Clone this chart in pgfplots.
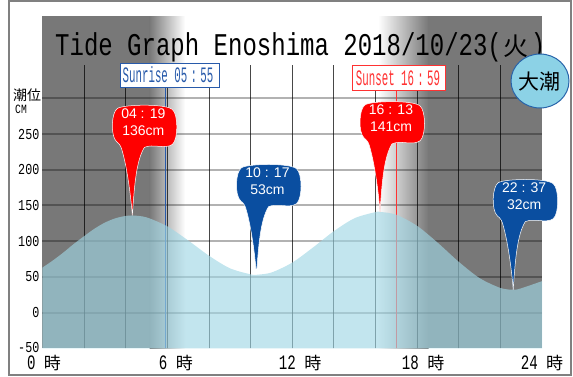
\documentclass[border=0pt]{standalone}
\usepackage{fontspec}
\usepackage{graphicx}
\usepackage{pgfplots}
\pgfplotsset{compat=1.18}
\usepgfplotslibrary{fillbetween}
\setmainfont{Liberation Sans}
\newfontfamily\jp{Noto Sans CJK JP}
\newfontfamily\titlemono[FakeStretch=0.76]{Liberation Mono}
\newfontfamily\sunmono[FakeStretch=0.49]{Liberation Mono}
\newfontfamily\xmono[FakeStretch=0.69]{Liberation Mono}
\newfontfamily\ymono[FakeStretch=0.77]{Liberation Mono}
\definecolor{night}{RGB}{120,120,120}
\definecolor{tidec}{RGB}{160,214,228}
\definecolor{hiR}{RGB}{255,0,0}
\definecolor{loB}{RGB}{10,78,160}
\definecolor{sunB}{RGB}{40,90,170}
\definecolor{sunR}{RGB}{255,50,50}
\definecolor{circF}{RGB}{140,210,230}
\definecolor{circD}{RGB}{40,100,170}
\definecolor{frameg}{RGB}{128,128,128}
\newcommand{\ji}{{\jp\fontsize{17}{17}\selectfont 時}}
\pgfdeclareplotmark{balloon}{%
 \pgfpathmoveto{\pgfpoint{0pt}{0pt}}%
 \pgfpathcurveto{\pgfpoint{2pt}{30pt}}{\pgfpoint{4pt}{55pt}}{\pgfpoint{12pt}{68pt}}%
 \pgfpathcurveto{\pgfpoint{20pt}{72pt}}{\pgfpoint{33pt}{66pt}}{\pgfpoint{40pt}{71pt}}%
 \pgfpathcurveto{\pgfpoint{46pt}{76pt}}{\pgfpoint{46pt}{101pt}}{\pgfpoint{40pt}{106pt}}%
 \pgfpathcurveto{\pgfpoint{33pt}{112pt}}{\pgfpoint{-9pt}{111pt}}{\pgfpoint{-15pt}{107pt}}%
 \pgfpathcurveto{\pgfpoint{-21pt}{103pt}}{\pgfpoint{-22pt}{80pt}}{\pgfpoint{-16pt}{74pt}}%
 \pgfpathcurveto{\pgfpoint{-12pt}{71pt}}{\pgfpoint{-11pt}{68pt}}{\pgfpoint{-10pt}{64pt}}%
 \pgfpathcurveto{\pgfpoint{-6pt}{50pt}}{\pgfpoint{-2pt}{25pt}}{\pgfpoint{0pt}{0pt}}%
 \pgfpathclose
 \pgfusepathqfillstroke
}
\begin{document}
\begin{tikzpicture}
% night shading (pixel coordinates)
\begin{scope}[x=1pt,y=-1pt,shift={(-42.5pt,348.3pt)}]
 \fill[night] (42.5,16) rectangle (150,348.3);
 \shade[left color=night, right color=white] (149.5,16) rectangle (185,348.3);
 \shade[left color=white, right color=night] (378,16) rectangle (428.5,348.3);
 \fill[night] (428,16) rectangle (542,348.3);
\end{scope}
\begin{axis}[
 at={(0pt,0pt)}, anchor=south west,
 scale only axis, width=499.5pt, height=250pt,
 xmin=0, xmax=24, ymin=-50, ymax=300,
 clip=false,
 axis line style={draw=none}, tick style={draw=none}, major tick length=0pt,
 /pgf/number format/assume math mode=true,
 xtick={0,6,12,18,24},
 xticklabels={{\hspace*{3pt}0 \ji},{\hspace*{17pt}6 \ji},{\hspace*{15.6pt}12 \ji},{\hspace*{12pt}18 \ji},{24 \ji}},
 xticklabel style={font=\xmono\fontsize{20.5}{20.5}\selectfont, anchor=base, inner sep=0pt, yshift=-21pt},
 ytick={-50,0,50,100,150,200,250},
 yticklabels={\raisebox{2.5pt}{-50},0,50,100,150,200,250},
 yticklabel style={font=\ymono\fontsize{15.2}{15.2}\selectfont, anchor=east, inner sep=0pt, xshift=-3pt},
]
 % grid
 \pgfplotsinvokeforeach{0,50,...,300}{\draw[black, opacity=0.3, line width=2pt] (axis cs:0,#1) -- (axis cs:24,#1);}
 \pgfplotsinvokeforeach{2,4,...,22}{\draw[black, opacity=0.72, line width=0.9pt] (axis cs:#1,-50) -- (axis cs:#1,346.6);}
 % sunrise / sunset lines
 \draw[sunB, line width=0.9pt] (axis cs:5.917,-50) -- (axis cs:5.917,315.4);
 \draw[sunR, line width=0.9pt] (axis cs:16.983,-50) -- (axis cs:16.983,311.6);
 % tide
 \addplot[name path=tide, draw=none, smooth] coordinates {
 (0,63) (0.5,73) (1,84) (1.5,96) (2,107) (2.5,117.5) (3,126) (3.5,132) (4,135.4) (4.317,136)
 (5,133.3) (6,120.7) (7,101) (8,79.6) (9,62.1) (10,53.5) (10.283,53) (11,56.1) (12,70)
 (13,91.2) (14,114) (15,132.2) (16,140.7) (16.217,141) (17,137) (18,121.4) (19,97.5)
 (20,71.1) (21,48.3) (22,34.5) (22.617,32) (23,34) (24,44)};
 \addplot[name path=base, draw=none] coordinates {(0,-50) (24,-50)};
 \addplot[fill=tidec, fill opacity=0.64, draw=none] fill between[of=tide and base, on layer=main];
 % high tides
 \addplot[only marks, mark=balloon, mark options={fill=hiR, draw=white, line width=0.5pt},
  point meta=explicit symbolic, visualization depends on={rawy \as \rawy},
  nodes near coords={\pgfplotspointmeta\\\pgfmathprintnumber[fixed,precision=0]{\rawy}cm},
  every node near coord/.append style={anchor=center, xshift=11pt, yshift=93.5pt, align=center,
   text=white, inner sep=0pt, font=\fontsize{14}{17}\selectfont}]
  coordinates {(4.317,136) [04 : 19] (16.217,141) [16 : 13]};
 % low tides
 \addplot[only marks, mark=balloon, mark options={fill=loB, draw=white, line width=0.5pt},
  point meta=explicit symbolic, visualization depends on={rawy \as \rawy},
  nodes near coords={\pgfplotspointmeta\\\pgfmathprintnumber[fixed,precision=0]{\rawy}cm},
  every node near coord/.append style={anchor=center, xshift=11pt, yshift=93.5pt, align=center,
   text=white, inner sep=0pt, font=\fontsize{14}{17}\selectfont}]
  coordinates {(10.283,53) [10 : 17] (22.617,32) [22 : 37]};
\end{axis}
\begin{scope}[x=1pt,y=-1pt,shift={(-42.5pt,348.3pt)}]
 % frame
 \draw[frameg, line width=2pt] (9,1) rectangle (570.5,374.5);
 % title
 \node[anchor=base west, inner sep=0pt] at (55,55.5)
  {\titlemono\fontsize{31.6}{32}\selectfont Tide Graph Enoshima 2018/10/23(\makebox[28.8pt]{\jp\fontsize{25}{25}\selectfont 火})};
 % sunrise / sunset boxes
 \draw[sunB, fill=white, line width=0.9pt] (120.7,63.3) rectangle (219,87.3);
 \node[anchor=base, inner sep=0pt, text=sunB] at (168,82.3)
  {\sunmono\fontsize{22}{22}\selectfont Sunrise 05\makebox[13pt]{:}55};
 \draw[sunR, fill=white, line width=0.9pt] (352.7,65.7) rectangle (445.7,90);
 \node[anchor=base, inner sep=0pt, text=sunR] at (398,85.5)
  {\sunmono\fontsize{22}{22}\selectfont Sunset 16\makebox[13pt]{:}59};
 % spring tide badge
 \draw[circD, fill=circF, line width=1pt] (540,81) ellipse [x radius=29pt, y radius=27pt];
 \node[inner sep=0pt] at (539,82) {\jp\fontsize{21}{21}\selectfont 大潮};
 % y axis caption
 \node[anchor=north west, inner sep=0pt] at (13,88.5) {\jp\fontsize{14}{14}\selectfont 潮位};
 \node[anchor=base west, inner sep=0pt] at (15,113.3) {\ymono\fontsize{12.6}{12.6}\selectfont CM};
\end{scope}
\pgfresetboundingbox
\path[use as bounding box] (-42.5pt,-27.7pt) rectangle (530.5pt,348.3pt);
\end{tikzpicture}
\end{document}
